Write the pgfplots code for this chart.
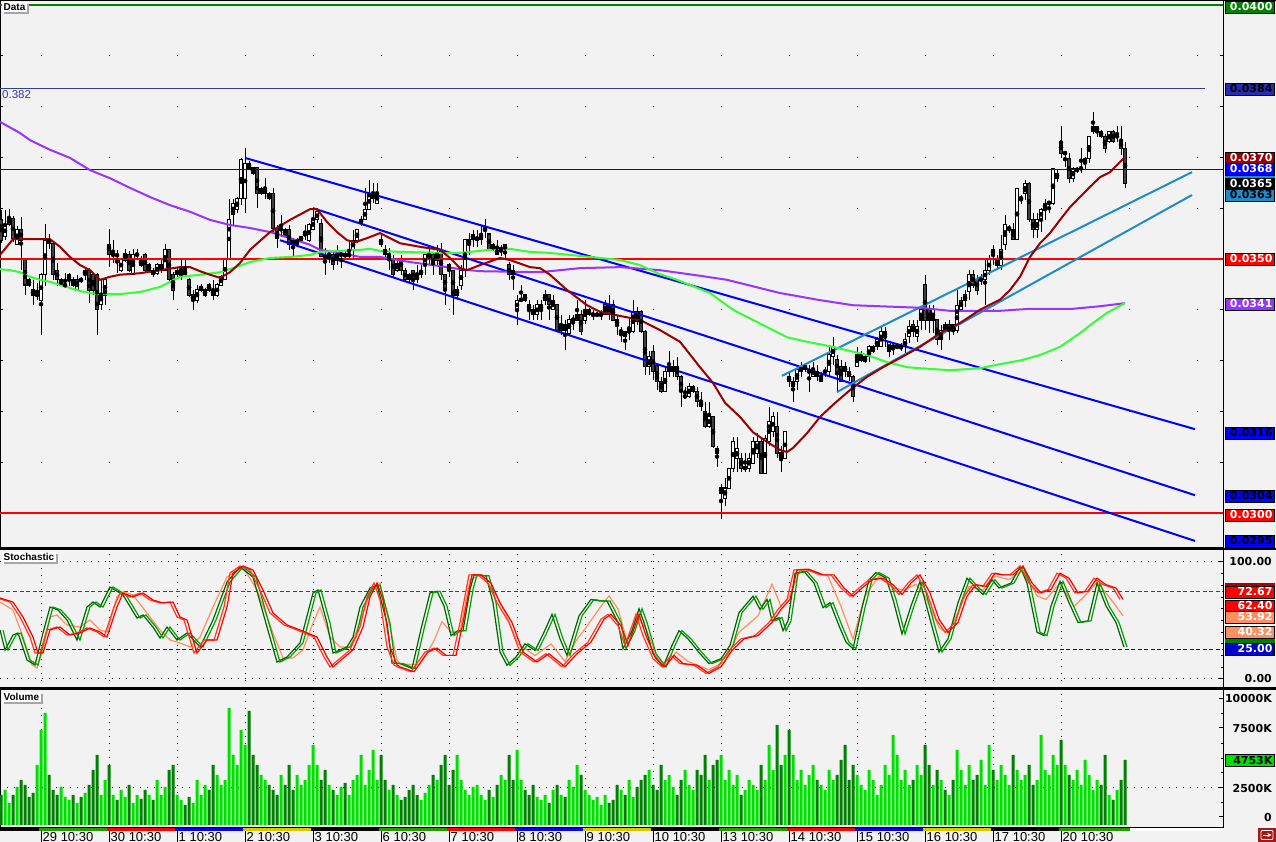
\documentclass[border=0pt]{standalone}
\usepackage{fontspec}
\setmainfont{Liberation Sans}
\newfontfamily\djs{DejaVu Sans}
\usepackage{pgfplots}
\pgfplotsset{compat=1.18}
\usepackage{pgfplotstable}
\usetikzlibrary{shadows}
\definecolor{bg}{HTML}{F2F2F2}
\definecolor{mared}{HTML}{990000}
\definecolor{magreen}{HTML}{33FF33}
\definecolor{mapurple}{HTML}{9933FF}
\definecolor{ltblue}{HTML}{1E8CC8}
\definecolor{volup}{HTML}{00E000}
\definecolor{voldn}{HTML}{008000}
\definecolor{candown}{HTML}{404040}
\definecolor{salmon}{HTML}{FF9060}
\definecolor{orred}{HTML}{FF3A20}
\definecolor{stgreen}{HTML}{00A000}
\definecolor{stdkgreen}{HTML}{006400}
\definecolor{fibo}{HTML}{3A3A90}
\definecolor{dgreen}{HTML}{008000}
\definecolor{dyel}{HTML}{D8C800}
\definecolor{btnred}{HTML}{A01818}
\definecolor{dashred}{HTML}{E00000}
\definecolor{dashblue}{HTML}{0000C8}

\newcommand\lf{\djs\bfseries\fontsize{11}{12}\selectfont}
\newcommand\rl[4]{\node[anchor=west, fill=#2, text=#3, draw=black, line width=0.8pt, minimum height=12pt, text width=46pt, align=right, inner xsep=1.5pt, inner ysep=0pt, font=\lf] at (1224.5,#1) {#4};}
\newcommand\pl[2]{\node[anchor=east, font=\lf, inner sep=0pt] at (1272,#1) {#2};}

\pgfplotstableread{
i o h l c v
0 357.7 359.7 353.1 353.7 30
1 354.4 359.7 353.7 356.7 35
2 356.9 359.8 356.4 357.9 22
3 357.9 358.4 353.4 354.0 30
4 352.9 356.4 352.8 355.8 38
5 355.8 358.3 347.8 353.7 45
6 349.8 350.1 342.9 344.9 40
7 345.9 346.3 344.5 344.8 28
8 343.9 345.9 341.0 342.8 32
9 342.9 345.2 341.9 343.0 60
10 341.8 347.2 335.0 346.9 95
11 346.9 356.8 344.6 353.7 112
12 353.7 355.0 352.0 353.0 50
13 353.1 353.4 345.9 346.9 35
14 347.8 349.2 344.6 345.9 30
15 344.9 346.2 344.6 345.9 38
16 344.8 347.2 344.2 344.9 28
17 345.9 347.2 344.6 346.9 25
18 345.9 346.5 344.5 344.9 30
19 343.9 346.9 343.9 345.9 22
20 345.9 346.5 345.3 345.8 28
21 346.9 348.2 345.9 347.8 32
22 347.8 348.2 341.3 343.9 40
23 346.9 347.2 342.9 343.9 55
24 346.9 347.2 335.0 340.0 70
25 341.0 345.9 340.0 343.2 30
26 342.9 345.9 341.0 345.9 45
27 352.9 356.0 348.5 351.0 60
28 350.8 353.7 349.2 350.9 30
29 350.8 351.8 347.2 350.7 25
30 347.8 350.2 347.5 349.8 35
31 349.8 352.0 349.5 351.0 28
32 350.8 351.5 347.5 347.8 40
33 346.9 352.0 346.9 350.8 22
34 350.8 352.0 349.8 350.9 30
35 349.8 350.5 348.5 348.8 26
36 350.8 351.2 347.5 347.8 35
37 347.8 349.2 347.5 348.8 30
38 347.8 348.2 346.5 346.9 25
39 347.2 349.2 346.9 348.8 45
40 347.8 349.8 347.2 348.8 30
41 347.8 352.9 347.8 351.8 38
42 351.8 352.0 345.5 345.9 55
43 346.9 347.5 341.9 343.9 60
44 346.9 348.2 346.5 347.8 30
45 346.5 349.8 345.9 347.8 25
46 347.8 349.8 346.5 346.9 20
47 345.9 346.2 342.6 342.9 28
48 341.9 343.9 340.0 342.9 22
49 341.9 344.9 341.3 343.9 45
50 343.9 345.0 343.6 344.6 30
51 342.9 344.2 342.6 343.9 40
52 344.9 345.2 343.6 343.9 35
53 343.9 345.9 341.9 342.9 60
54 342.9 345.2 342.6 344.9 50
55 344.9 346.9 344.6 346.5 40
56 345.9 350.1 345.9 350.1 45
57 350.1 361.9 349.8 357.8 117
58 358.7 361.9 356.7 361.0 70
59 359.8 362.3 359.0 361.9 60
60 361.9 369.8 360.6 369.5 95
61 361.9 371.8 359.0 368.8 80
62 368.8 369.2 367.5 367.9 114
63 367.9 368.2 366.5 366.9 70
64 367.9 367.9 360.0 362.9 60
65 362.9 364.2 362.6 363.9 50
66 362.9 365.9 361.9 363.9 45
67 362.9 363.2 361.6 361.9 40
68 362.9 363.9 355.1 356.0 35
69 356.0 356.7 352.1 354.1 30
70 355.8 358.7 354.4 355.9 50
71 355.8 356.1 354.4 354.7 40
72 355.8 356.7 351.8 352.8 60
73 353.9 354.1 350.5 352.8 35
74 352.8 354.2 352.5 353.9 50
75 353.7 354.6 353.4 354.4 40
76 354.8 356.7 353.7 354.9 45
77 353.7 357.0 353.4 356.7 60
78 355.8 360.0 355.7 357.8 80
79 357.7 360.0 357.0 359.3 60
80 356.9 357.8 350.3 350.5 45
81 350.5 352.1 346.9 350.3 55
82 350.8 351.4 349.2 350.9 40
83 350.8 351.8 347.8 349.0 35
84 349.8 352.8 348.8 350.9 30
85 350.8 351.4 348.2 350.9 38
86 350.8 351.5 350.0 350.7 42
87 350.7 353.4 349.8 350.9 30
88 351.8 355.7 349.8 353.7 45
89 353.7 356.0 353.1 355.8 50
90 357.0 358.5 356.5 357.8 70
91 357.8 363.9 357.8 359.8 40
92 359.8 365.5 359.6 362.9 55
93 361.9 364.9 361.0 362.9 75
94 361.0 364.9 361.0 362.9 45
95 353.9 354.7 352.4 352.9 70
96 351.9 352.8 350.1 351.0 45
97 350.0 352.1 347.8 351.0 35
98 350.0 350.8 346.5 346.9 40
99 347.8 350.1 347.5 349.0 30
100 350.0 350.8 346.9 347.8 25
101 347.8 348.2 345.5 345.9 28
102 346.9 347.2 345.5 345.9 35
103 347.8 347.8 343.9 345.9 40
104 346.9 348.8 345.2 345.9 30
105 346.9 348.8 346.2 347.8 25
106 348.8 350.8 346.9 350.8 32
107 350.0 352.8 348.8 351.0 40
108 350.8 351.4 346.9 348.8 50
109 349.8 352.8 348.8 351.0 45
110 351.4 353.1 345.9 346.9 60
111 346.9 346.9 341.0 343.9 70
112 348.8 349.2 346.5 347.8 40
113 347.8 347.8 339.0 342.9 55
114 342.9 344.6 342.3 343.9 70
115 344.9 348.8 343.9 347.8 45
116 347.8 353.9 346.5 353.9 35
117 352.9 355.1 350.8 353.9 30
118 353.9 355.8 352.4 354.9 38
119 353.9 355.7 352.4 354.0 40
120 353.9 356.7 352.8 354.9 30
121 355.7 357.8 354.1 355.8 25
122 354.9 354.9 351.8 351.9 35
123 351.9 353.1 351.5 352.8 28
124 351.9 353.7 350.8 351.0 40
125 351.9 352.8 350.5 352.0 50
126 351.8 352.8 349.8 352.8 45
127 348.8 349.5 345.9 346.9 70
128 347.8 348.8 343.9 346.9 45
129 340.0 342.9 337.0 341.9 75
130 341.9 344.9 341.9 342.0 45
131 342.9 343.2 341.6 341.9 35
132 341.0 341.9 338.0 340.0 30
133 340.0 341.0 338.0 339.0 40
134 339.0 341.9 338.0 341.0 28
135 340.0 341.9 338.0 341.0 25
136 341.9 343.9 341.0 342.9 30
137 342.9 342.9 338.0 341.0 22
138 340.0 342.9 340.0 341.9 35
139 341.0 341.0 336.0 336.0 40
140 336.0 339.0 335.0 337.0 30
141 337.0 338.0 332.1 336.0 28
142 335.4 339.0 335.0 338.0 45
143 338.0 339.0 336.0 338.1 38
144 338.0 341.9 338.0 339.0 60
145 339.0 340.0 335.0 335.7 50
146 338.0 341.9 337.3 340.0 35
147 339.0 340.3 338.7 340.0 30
148 339.0 340.0 338.0 339.1 25
149 339.0 339.5 338.5 339.1 28
150 339.0 340.0 338.0 339.1 20
151 339.0 341.9 339.0 341.0 30
152 341.0 342.9 338.0 339.0 22
153 341.0 341.9 338.0 338.0 25
154 338.0 339.0 335.0 337.0 40
155 335.7 336.7 333.7 335.8 35
156 335.7 335.7 332.1 334.7 30
157 335.7 338.6 334.1 335.8 45
158 335.7 341.9 335.4 339.6 28
159 339.6 340.6 337.0 337.7 38
160 339.6 340.0 335.4 335.7 45
161 335.7 336.0 327.2 328.8 50
162 328.8 331.8 327.2 330.8 55
163 331.8 333.1 326.2 327.8 40
164 329.0 329.1 324.2 325.9 35
165 325.9 326.8 323.6 323.9 60
166 323.9 328.5 323.9 327.8 45
167 327.8 331.8 326.8 328.8 50
168 327.8 330.1 326.8 328.8 38
169 328.8 330.8 326.2 326.8 30
170 326.8 327.2 320.9 323.9 45
171 322.9 324.9 322.6 323.0 55
172 322.9 325.5 322.6 324.9 40
173 323.9 325.2 323.6 324.9 35
174 323.9 324.9 320.9 321.9 55
175 321.9 323.9 320.0 320.9 50
176 320.0 321.9 316.7 317.0 70
177 317.0 321.9 316.7 319.0 45
178 319.0 319.0 312.7 313.1 60
179 312.7 313.1 309.1 311.8 65
180 303.9 305.8 298.9 304.9 70
181 302.9 306.8 301.3 304.9 45
182 304.9 308.8 304.9 308.8 55
183 308.8 315.0 308.1 314.1 40
184 310.8 315.0 308.1 312.7 50
185 310.8 311.8 308.1 308.8 30
186 308.8 311.8 308.1 308.9 35
187 308.8 311.8 308.1 310.8 45
188 309.8 315.0 309.8 314.1 40
189 311.8 315.7 310.8 314.1 35
190 314.1 315.0 307.8 307.8 60
191 307.8 315.4 307.8 314.7 45
192 314.1 320.9 313.1 318.0 80
193 316.0 319.9 315.0 319.0 55
194 317.0 319.9 310.8 311.8 100
195 311.8 313.1 308.1 310.8 60
196 310.8 316.0 310.8 316.0 70
197 326.8 327.8 324.9 325.9 95
198 324.9 326.8 321.9 325.9 70
199 325.9 329.1 324.2 328.2 45
200 327.8 329.8 326.8 328.8 55
201 328.2 329.5 327.8 329.1 40
202 327.8 329.1 323.9 327.9 50
203 326.8 329.8 326.8 328.5 60
204 327.8 329.1 325.9 326.8 45
205 325.9 327.8 325.9 326.8 40
206 327.8 328.8 326.8 327.9 35
207 327.8 332.7 326.8 331.1 55
208 330.8 334.7 329.1 332.7 45
209 330.1 331.1 323.9 327.8 50
210 328.8 330.1 325.9 325.9 65
211 328.8 329.8 326.8 327.8 80
212 327.8 328.8 325.9 326.8 45
213 326.8 327.2 321.9 322.9 60
214 328.8 332.7 328.8 331.1 50
215 330.1 331.8 329.8 331.1 40
216 329.8 331.1 329.5 330.8 35
217 330.8 333.1 329.8 332.7 55
218 331.8 333.1 331.5 332.7 45
219 332.7 334.7 332.1 334.1 30
220 332.7 336.7 332.7 335.7 40
221 334.7 336.7 332.7 335.7 60
222 331.8 333.7 330.8 333.7 50
223 332.7 333.7 331.1 332.8 90
224 332.7 333.2 332.2 332.8 70
225 332.7 333.4 331.8 332.8 45
226 332.7 335.4 331.4 334.1 55
227 334.7 338.0 333.4 336.7 40
228 337.0 338.0 334.7 335.7 45
229 334.7 338.0 333.7 336.7 60
230 338.0 340.6 336.0 340.0 50
231 344.9 346.9 336.0 338.0 80
232 340.0 341.0 335.4 338.0 60
233 338.0 341.0 335.4 340.0 40
234 338.0 338.0 333.1 334.1 55
235 334.1 337.0 332.1 336.0 45
236 337.0 337.5 335.7 336.0 35
237 336.0 338.0 334.1 337.0 30
238 337.0 337.0 335.0 336.0 45
239 336.0 343.9 335.4 340.9 75
240 340.0 342.6 339.9 341.9 55
241 341.9 343.9 340.6 342.9 40
242 343.6 347.8 341.9 346.9 60
243 346.9 347.8 344.3 344.9 45
244 345.9 346.9 342.9 343.9 50
245 345.9 347.0 344.9 346.0 65
246 345.9 349.8 340.9 347.8 40
247 347.8 350.8 346.9 349.8 80
248 351.9 352.8 348.8 350.8 55
249 348.8 350.8 347.8 349.8 45
250 348.8 354.7 347.8 351.9 60
251 352.8 358.7 351.8 356.7 50
252 356.0 356.7 355.1 356.1 40
253 355.7 357.0 353.7 353.9 70
254 353.9 363.9 353.7 363.9 55
255 361.9 362.6 360.9 362.0 45
256 362.9 365.5 361.6 364.9 50
257 364.9 365.2 357.3 357.8 60
258 357.8 359.0 354.1 355.8 40
259 355.8 359.0 354.1 357.8 45
260 357.8 360.0 355.4 359.8 90
261 359.8 361.9 357.7 361.0 55
262 361.0 361.0 359.0 361.1 50
263 361.0 367.8 360.6 367.8 70
264 365.9 367.8 365.2 366.9 60
265 373.1 376.1 369.8 370.8 85
266 370.8 371.1 368.2 370.9 60
267 369.8 370.8 364.9 365.9 50
268 365.9 368.2 365.2 367.8 45
269 367.5 368.2 366.9 367.6 55
270 367.8 371.8 366.9 367.9 40
271 368.8 370.1 367.8 369.8 65
272 369.8 374.1 368.8 374.1 50
273 375.1 379.0 374.7 376.1 35
274 375.1 376.1 374.1 376.1 45
275 375.1 375.4 373.8 374.1 40
276 374.1 374.7 370.8 371.8 70
277 373.1 375.1 372.8 375.1 30
278 375.1 375.4 372.8 373.1 25
279 374.1 376.1 373.1 374.2 35
280 373.1 376.1 370.5 371.8 45
281 371.8 373.1 363.9 364.9 65
}\candles

\pgfplotstableread{
x v
0 41.9
5 24.8
13 37.6
18 39.3
27 16.2
35 12.0
43 39.3
50 61.5
58 59.0
67 50.4
77 33.3
87 61.5
93 65.8
100 61.5
110 78.6
115 76.1
123 71.8
137 52.1
143 54.7
153 44.4
160 35.0
167 44.4
177 33.3
187 39.3
200 27.4
213 50.4
227 82.9
240 95.7
253 87.2
267 44.4
277 14.5
287 18.8
300 30.8
313 73.5
318 76.1
327 47.9
333 22.2
347 27.4
353 35.9
360 61.5
370 77.8
377 80.3
387 47.9
392 13.7
400 13.2
412 9.0
421 42.7
430 73.6
437 75.0
444 62.4
451 37.1
458 41.3
463 41.3
470 76.4
474 89.0
486 88.2
493 65.2
500 23.0
507 11.8
516 18.8
525 30.1
535 24.4
544 39.9
552 55.3
560 34.3
567 20.2
579 53.9
591 68.0
600 66.6
607 66.6
618 48.3
623 25.8
632 41.3
639 60.1
644 48.3
653 21.6
663 10.4
672 28.7
679 41.3
688 34.3
700 21.6
709 13.2
721 17.4
730 28.7
739 56.7
753 70.8
760 59.5
767 68.0
772 49.7
779 52.5
783 41.3
788 49.7
795 90.4
804 91.9
814 82.0
823 61.0
830 65.2
839 45.5
846 31.5
853 25.8
862 61.0
869 84.8
876 91.0
886 86.2
893 68.0
902 38.5
911 62.4
920 83.4
930 51.1
939 23.0
948 34.3
958 65.2
967 86.2
976 77.8
983 72.2
992 84.8
999 77.8
1011 82.0
1020 96.1
1027 82.0
1037 39.9
1044 37.1
1051 62.4
1060 83.4
1069 65.2
1078 48.3
1088 49.7
1097 82.0
1106 62.4
1116 48.3
1124 27.3
}\stG

\pgfplotstableread{
x v
0 69.2
13 65.8
23 53.0
33 35.9
38 22.2
43 22.2
50 41.9
60 44.4
70 37.6
80 39.3
90 43.6
100 40.2
107 35.9
117 61.5
123 73.5
133 70.1
143 73.5
153 67.5
163 65.0
173 65.8
180 53.0
187 50.4
197 22.2
207 33.3
217 33.3
227 61.5
233 90.6
243 96.6
253 93.2
263 76.1
273 56.4
287 46.2
300 41.9
317 35.9
327 18.8
333 10.3
347 20.5
353 24.8
363 44.4
370 70.1
377 82.1
383 67.5
390 27.4
397 12.0
400 10.4
414 6.2
428 23.0
437 26.4
446 20.2
456 20.2
463 48.3
472 89.0
481 89.0
491 82.0
500 65.2
512 48.3
523 23.0
537 14.6
549 21.6
565 10.4
577 21.6
591 31.5
604 51.1
611 55.3
621 45.5
628 28.7
635 45.5
639 55.3
646 37.1
656 17.4
665 10.4
674 20.2
683 13.2
697 11.8
709 4.8
721 10.4
732 24.4
744 34.3
758 37.1
772 48.3
781 59.5
790 68.0
797 93.2
809 93.8
823 89.0
834 89.0
844 77.8
853 70.8
862 77.8
872 84.8
883 86.2
893 80.6
902 72.2
911 82.0
920 89.0
930 73.6
939 51.1
948 39.9
958 48.3
967 70.8
976 80.6
986 79.2
995 90.4
1004 89.0
1013 89.0
1023 96.6
1032 82.0
1041 73.6
1051 76.4
1060 90.4
1069 86.2
1078 73.6
1088 75.0
1097 86.2
1106 80.6
1116 77.8
1123 68.0
}\stR

\pgfplotstableread{
x v
0 65.8
13 59.0
23 35.9
32 12.0
37 9.4
43 24.8
50 53.0
57 54.7
67 46.2
80 44.4
90 50.4
100 41.9
107 40.2
117 70.1
123 74.4
133 71.8
150 53.0
160 41.9
170 33.3
180 30.8
190 27.4
200 35.9
213 61.5
227 87.2
243 95.7
257 76.1
273 39.3
283 17.9
293 17.9
303 24.8
313 47.9
320 61.5
330 35.9
340 27.4
350 27.4
360 47.9
370 73.5
380 82.1
390 44.4
397 16.2
400 13
419 12
433 31
442 49
451 40
460 41
470 85
481 89
493 76
505 57
518 30
535 20
551 30
565 15
577 34
586 44
600 61
609 71
618 60
628 29
637 54
646 43
658 17
667 12
676 23
688 15
709 8
725 15
739 40
758 54
772 81
781 62
790 71
800 93
814 92
828 88
841 62
853 34
865 71
879 88
893 78
904 76
916 81
925 71
939 44
948 39
958 57
969 79
983 76
995 88
1009 85
1023 93
1037 71
1046 68
1060 82
1074 62
1088 74
1097 83
1111 68
1123 54
}\stS

\pgfplotsset{panel/.style={scale only axis, anchor=south west, width=1223pt, xmin=0, xmax=1223,
  axis background/.style={fill=bg}, axis line style={black, line width=1pt},
  ytick pos=right, yticklabel pos=right, yticklabels={}, xticklabels={}, tick align=inside,
  major tick length=4pt, minor tick length=2pt, every tick/.style={black, line width=1pt},
  xtick style={draw=none}, clip=false}}
\pgfplotsset{candle/.style={only marks, mark=none, error bars/.cd, y dir=both, y explicit, error mark=none}}

\begin{document}
\begin{tikzpicture}[x=1pt,y=1pt]
\useasboundingbox (0,0) rectangle (1276,842);
\fill[bg] (0,0) rectangle (1276,842);
% ================= MAIN PANEL =================
\begin{axis}[panel, at={(0pt,294pt)}, height=547pt, ymin=293.11, ymax=400.79,
  xtick=\empty, ytick={300,310,...,390}, ytick pos=both, yticklabel pos=right, major tick length=3pt,
  ymajorgrids, major y grid style={black, line width=1pt, dash pattern=on 1pt off 67pt, dash phase=27pt}]
% wicks
\addplot[candle, error bar style={draw=black, line width=1pt}]
  table[x expr=1+4*\thisrow{i}, y expr=(\thisrow{h}+\thisrow{l})/2, y error expr=(\thisrow{h}-\thisrow{l})/2] {\candles};
% body outline
\addplot[candle, error bar style={draw=black, line width=3.6pt}]
  table[x expr=1+4*\thisrow{i}, y expr=(\thisrow{o}+\thisrow{c})/2, y error expr=abs(\thisrow{c}-\thisrow{o})/2+0.12] {\candles};
% up bodies
\addplot[only marks, mark=none, restrict expr to domain={\thisrow{c}-\thisrow{o}}{0:100},
  error bars/.cd, y dir=both, y explicit, error mark=none, error bar style={draw=white, line width=1.6pt}]
  table[x expr=1+4*\thisrow{i}, y expr=(\thisrow{o}+\thisrow{c})/2, y error expr={max(abs(\thisrow{c}-\thisrow{o})/2-0.08,0)}] {\candles};
% down bodies
\addplot[only marks, mark=none, restrict expr to domain={\thisrow{c}-\thisrow{o}}{-100:-0.001},
  error bars/.cd, y dir=both, y explicit, error mark=none, error bar style={draw=candown, line width=1.6pt}]
  table[x expr=1+4*\thisrow{i}, y expr=(\thisrow{o}+\thisrow{c})/2, y error expr={max(abs(\thisrow{c}-\thisrow{o})/2-0.08,0)}] {\candles};
% horizontal levels
\addplot[dgreen, line width=2pt] coordinates {(0,400) (1223,400)};
\addplot[fibo, line width=1pt] coordinates {(0,383.5) (1205,383.5)};
\addplot[blue, line width=1pt] coordinates {(0,367.7) (1223,367.7)};
\addplot[red, line width=2pt] coordinates {(0,350) (1223,350)};
\addplot[red, line width=2pt] coordinates {(0,300) (1223,300)};
% down channel
\addplot[blue, line width=2pt] coordinates {(245,369.9) (1195,316.5)};
\addplot[blue, line width=2pt] coordinates {(313,360.0) (1195,303.5)};
\addplot[blue, line width=2pt] coordinates {(280,353.7) (1195,294.5)};
% up channel
\addplot[ltblue, line width=2pt] coordinates {(782,327.0) (1192,367.1)};
\addplot[ltblue, line width=2pt] coordinates {(837,323.8) (1192,362.6)};
% purple MA
\addplot[mapurple, line width=2pt] coordinates {(0,377.0) (20,374.8) (30,373.4) (50,371.5) (70,369.9) (90,367.5) (110,365.9) (130,364.0) (150,362.2) (170,360.6) (190,359.3) (210,357.7) (230,356.7) (250,356.1) (270,355.3) (290,354.1) (310,352.8) (320,351.8) (340,351.2) (360,350.4) (380,350.4) (410,349.4) (440,348.6) (460,348.0) (480,347.6) (540,347.4) (560,347.8) (580,348.2) (620,348.4) (660,347.8) (700,346.7) (727,345.9) (780,343.3) (820,341.9) (853,340.9) (893,340.6) (920,340.4) (950,339.8) (1000,339.8) (1030,340.2) (1073,340.2) (1100,340.7) (1125,341.3)};
% green MA
\addplot[magreen, line width=2pt] coordinates {(0,348.0) (10,347.8) (20,347.4) (30,346.5) (40,345.9) (50,345.5) (60,344.9) (70,344.3) (80,343.7) (90,343.3) (100,343.1) (120,343.1) (140,343.5) (160,344.5) (170,345.5) (180,346.5) (200,346.9) (220,347.4) (233,348.2) (250,349.4) (270,350.2) (290,350.4) (310,350.8) (320,351.4) (340,351.6) (360,351.8) (370,352.0) (380,351.6) (400,351.4) (440,351.2) (460,351.2) (480,351.6) (500,352.0) (510,352.0) (530,351.4) (550,351.2) (570,350.8) (590,350.4) (620,349.8) (640,348.8) (660,347.0) (677,345.9) (710,343.3) (733,340.0) (757,337.6) (777,335.6) (787,334.6) (807,333.7) (833,332.7) (867,331.1) (887,329.7) (907,328.7) (920,328.5) (950,328.1) (980,328.5) (1000,329.3) (1022,330.1) (1040,331.1) (1060,332.7) (1080,335.4) (1093,337.4) (1107,339.4) (1125,341.3)};
% dark red MA
\addplot[mared, line width=2pt] coordinates {(0,350.8) (13,353.9) (17,353.9) (50,353.9) (60,352.4) (70,350.4) (80,348.8) (90,347.8) (100,345.9) (110,346.5) (120,346.9) (140,347.2) (160,347.8) (180,348.4) (190,348.4) (200,347.6) (210,346.9) (220,346.3) (230,347.4) (240,349.2) (250,351.8) (270,355.3) (290,357.7) (310,359.8) (317,359.8) (327,357.3) (337,355.3) (347,353.7) (355,353.3) (367,354.1) (380,355.1) (390,354.1) (400,353.1) (420,352.4) (440,351.8) (450,350.2) (460,348.2) (467,347.8) (480,348.8) (500,350.2) (510,349.8) (530,348.4) (540,348.2) (550,346.9) (567,343.9) (587,340.9) (600,339.6) (620,338.8) (640,338.0) (660,336.0) (680,333.7) (700,328.7) (713,325.6) (725,321.7) (740,318.9) (753,315.9) (767,314.0) (780,312.4) (787,312.0) (793,312.8) (807,315.7) (820,318.9) (833,321.3) (850,324.2) (867,326.8) (883,328.7) (900,330.5) (920,332.7) (940,335.4) (960,337.4) (980,340.0) (1000,342.0) (1010,343.9) (1020,346.5) (1030,350.4) (1040,353.1) (1050,355.1) (1060,357.7) (1070,360.2) (1080,362.2) (1090,364.2) (1100,366.1) (1110,367.1) (1120,369.1) (1124,369.9)};
\end{axis}
% ================= STOCHASTIC =================
\begin{axis}[panel, at={(0pt,154pt)}, height=138pt, ymin=-7.69, ymax=110.26,
  xtick={41,109,...,1061}, ytick={0,100}, minor ytick={10,20,30,40,50,60,70,80,90},
  xmajorgrids, ymajorgrids, major grid style={black, line width=1pt, dash pattern=on 1pt off 6pt}]
\addplot[dashred, line width=1.2pt, dash pattern=on 4pt off 2.5pt] coordinates {(0,75) (1223,75)};
\addplot[dashblue, line width=1.2pt, dash pattern=on 4pt off 2.5pt] coordinates {(0,25) (1223,25)};
\addplot[salmon, line width=1.2pt] table[x=x, y=v] {\stS};
\addplot[stdkgreen, line width=1.2pt] table[x=x, y=v] {\stG};
\addplot[stgreen, line width=1.2pt] table[x expr=\thisrow{x}+3, y=v] {\stG};
\addplot[orred, line width=1.2pt] table[x expr=\thisrow{x}-3, y=v] {\stR};
\addplot[red, line width=1.2pt] table[x=x, y=v] {\stR};
\end{axis}
% ================= VOLUME =================
\begin{axis}[panel, at={(0pt,14pt)}, height=138pt, ymin=-3, ymax=135,
  xtick={41,109,...,1061}, ytick={8,37,97,126}, minor ytick={22,52,66,81,111},
  xmajorgrids, major x grid style={black, line width=1pt, dash pattern=on 1pt off 6pt}]
\addplot[black, line width=1pt, dash pattern=on 1pt off 6pt] coordinates {(0,37) (1223,37)};
\addplot[ybar, bar width=3pt, bar shift=0pt, fill=volup, draw=none, restrict expr to domain={\thisrow{c}-\thisrow{o}}{0:100}]
  table[x expr=1+4*\thisrow{i}, y=v] {\candles};
\addplot[ybar, bar width=3pt, bar shift=0pt, fill=voldn, draw=none, restrict expr to domain={\thisrow{c}-\thisrow{o}}{-100:-0.001}]
  table[x expr=1+4*\thisrow{i}, y=v] {\candles};
\end{axis}
% ================= frames =================
\draw[black, line width=1pt] (0,841.5) -- (1276,841.5);
\draw[black, line width=2.5pt] (0,293) -- (1276,293);
\draw[black, line width=2.5pt] (0,153.5) -- (1276,153.5);
\draw[black, line width=1.5pt] (0,14) -- (1223,14);
\draw[black, line width=1pt] (1223,14) -- (1223,842);
% ================= panel titles =================
\node[anchor=north west, fill=white, inner xsep=2pt, inner ysep=1.5pt, font=\bfseries\fontsize{10}{11}\selectfont, drop shadow={shadow xshift=2pt, shadow yshift=-2pt, fill=gray!70, opacity=1}] at (1.5,840.5) {Data};
\node[anchor=north west, fill=white, inner xsep=2pt, inner ysep=1.5pt, font=\bfseries\fontsize{10}{11}\selectfont, drop shadow={shadow xshift=2pt, shadow yshift=-2pt, fill=gray!70, opacity=1}] at (1.5,290.5) {Stochastic};
\node[anchor=north west, fill=white, inner xsep=2pt, inner ysep=1.5pt, font=\bfseries\fontsize{10}{11}\selectfont, drop shadow={shadow xshift=2pt, shadow yshift=-2pt, fill=gray!70, opacity=1}] at (1.5,150.5) {Volume};
\node[anchor=north west, text=fibo, inner sep=0pt, font=\fontsize{11.5}{12}\selectfont] at (2,752) {0.382};
% ================= right labels: main =================
\rl{835}{dgreen}{white}{0.0400}
\rl{753}{fibo!70!blue}{black}{0.0384}
\rl{684}{mared}{white}{0.0370}
\fill[ltblue] (1224.5,663.5) rectangle (1274.5,667.5);
\rl{673}{blue}{white}{0.0368}
\rl{658}{black}{white}{0.0365}
\rl{647}{ltblue}{black}{0.0363}
\rl{583}{red}{white}{0.0350}
\rl{538}{mapurple}{white}{0.0341}
\rl{409}{blue}{black}{0.0316}
\rl{346}{blue}{black}{0.0304}
\rl{327}{red}{white}{0.0300}
\rl{301}{blue}{black}{0.0295}
% stochastic labels
\pl{280}{100.00}
\fill[red!70!black] (1224.5,255.5) rectangle (1274.5,259);
\rl{250}{red}{white}{72.67}
\rl{236}{red}{white}{62.40}
\fill[white] (1224.5,215.5) rectangle (1274.5,219.5);
\rl{225}{salmon}{white}{53.92}
\fill[dgreen] (1224.5,198.5) rectangle (1274.5,204.5);
\rl{210}{salmon}{white}{40.32}
\rl{193}{dashblue}{white}{25.00}
\pl{163}{0.00}
% volume labels
\pl{143}{10000K}
\pl{114}{7500K}
\rl{82}{volup}{black}{4753K}
\pl{54}{2500K}
\pl{25}{0}
% ================= date strip =================
\fill[black] (0,11) rectangle (39,14);
\fill[dgreen!80!lime] (39,11) rectangle (107,14);
\fill[red] (107,11) rectangle (175,14);
\fill[blue] (175,11) rectangle (243,14);
\fill[dyel] (243,11) rectangle (311,14);
\fill[black] (311,11) rectangle (379,14);
\fill[dgreen!80!lime] (379,11) rectangle (447,14);
\fill[red] (447,11) rectangle (515,14);
\fill[blue] (515,11) rectangle (583,14);
\fill[dyel] (583,11) rectangle (651,14);
\fill[black] (651,11) rectangle (719,14);
\fill[dgreen!80!lime] (719,11) rectangle (787,14);
\fill[red] (787,11) rectangle (855,14);
\fill[blue] (855,11) rectangle (923,14);
\fill[dyel] (923,11) rectangle (991,14);
\fill[black] (991,11) rectangle (1059,14);
\fill[dgreen!80!lime] (1059,11) rectangle (1130,14);
\fill[white] (1130,11) rectangle (1223,14);
\foreach \xx/\lab in {41/29,109/30,177/1,245/2,313/3,381/6,449/7,517/8,585/9,653/10,721/13,789/14,857/15,925/16,993/17,1061/20}{
  \draw[black, line width=1pt] (\xx,0) -- (\xx,11);
  \node[anchor=west, inner sep=0pt, font=\fontsize{13}{14}\selectfont] at (\xx+1.5,5.3) {\lab\ 10:30};
}
% button
\fill[btnred] (1258,0) rectangle (1276,14);
\draw[white, line width=0.8pt, rounded corners=1pt] (1261,2.5) rectangle (1273,11.5);
\draw[white, line width=0.9pt, -stealth] (1263,7) -- (1271.5,7);
\end{tikzpicture}
\end{document}
